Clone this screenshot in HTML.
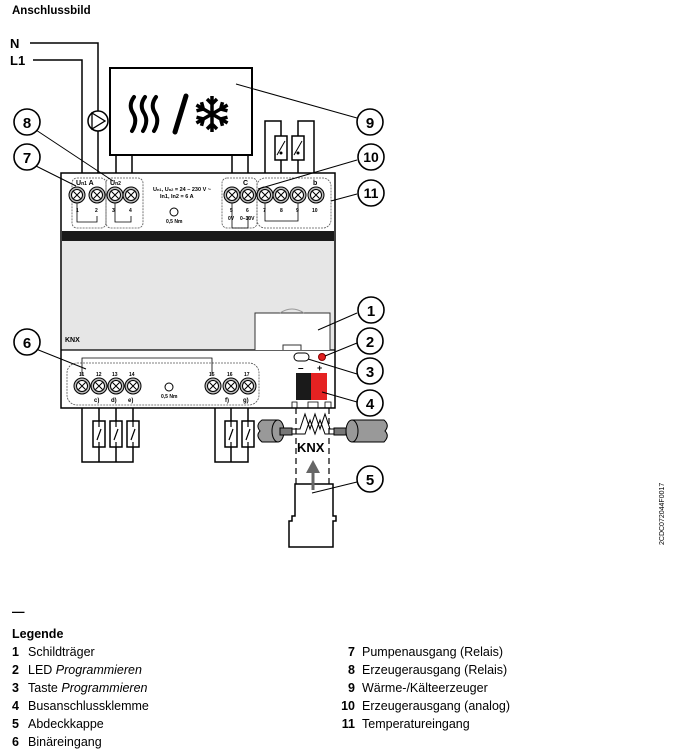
<!DOCTYPE html>
<html><head><meta charset="utf-8"><style>
body{margin:0;background:#fff;width:673px;height:756px;overflow:hidden;font-family:"Liberation Sans",sans-serif}
svg{position:absolute;left:0;top:0}
</style></head><body>
<svg width="673" height="756" viewBox="0 0 673 756" font-family="Liberation Sans, sans-serif">
<defs>
<g id="t"><circle r="8" fill="#bbb" stroke="#000" stroke-width="1"/><circle r="5.5" fill="#fff" stroke="#000" stroke-width="1"/><path d="M-3.5,-3.5L3.5,3.5M3.5,-3.5L-3.5,3.5" stroke="#000" stroke-width="1"/></g>
<g id="sw"><rect x="-6" y="0" width="12" height="26" fill="#fff" stroke="#000" stroke-width="1.5"/><path d="M-2,19L2,8M0,0V6M0,21V26" stroke="#000" stroke-width="1.2"/></g>
<g id="arm"><path d="M0,0V-18M-5,-15L0,-10L5,-15" fill="none" stroke="#000" stroke-width="3.5"/></g>
</defs>
<text x="12" y="14" font-size="11.5" font-weight="bold">Anschlussbild</text>
<text x="10" y="48" font-size="13" font-weight="bold">N</text>
<text x="10" y="65" font-size="13" font-weight="bold">L1</text>
<g fill="none" stroke="#000" stroke-width="1.5">
<path d="M30,43H98V173M33,60H82V173"/>
<rect x="110" y="68" width="142" height="87" stroke-width="2"/>
<path d="M116,155V173M132,155V173M232,155V173M248,155V173"/>
<path d="M265,173V121H281V136M281,160V173M298,173V160M298,136V121H314V173"/>
<rect x="275" y="136" width="12" height="24" fill="#fff"/><rect x="292" y="136" width="12" height="24" fill="#fff"/>
<path d="M277,155L285,141M294,155L302,141" stroke-width="1"/>
</g>
<circle cx="281" cy="153" r="1.5"/><circle cx="298" cy="153" r="1.5"/>
<circle cx="98" cy="121" r="10" fill="#fff" stroke="#000" stroke-width="1.5"/>
<path d="M92,113L105,121L92,129Z" fill="none" stroke="#000" stroke-width="1.3"/>
<g fill="none" stroke="#000" stroke-width="4" stroke-linecap="round">
<path d="M134,97Q128,105 133,113Q138,121 132,131"/>
<path d="M145,97Q139,105 144,113Q149,121 143,131"/>
<path d="M156,97Q150,105 155,113Q160,121 154,131"/>
<path d="M186,96L175,132" stroke-width="5"/>
</g>
<g transform="translate(212,114)"><use href="#arm"/><use href="#arm" transform="rotate(60)"/><use href="#arm" transform="rotate(120)"/><use href="#arm" transform="rotate(180)"/><use href="#arm" transform="rotate(240)"/><use href="#arm" transform="rotate(300)"/></g>
<!-- device -->
<rect x="61" y="173" width="274" height="235" fill="#fff" stroke="#000" stroke-width="1.5"/>
<rect x="62" y="231" width="272" height="10" fill="#1a1a1a"/>
<rect x="62" y="241" width="272" height="109" fill="#e6e6e6"/>
<line x1="61" y1="350" x2="335" y2="350" stroke="#000" stroke-width="1.2"/>
<path d="M255,350V313H330V350M283,350V345H301V350" fill="#fff" stroke="#333" stroke-width="1"/>
<path d="M280,313Q292,305 304,313" fill="none" stroke="#999"/>
<text x="65" y="342" font-size="7" font-weight="bold">KNX</text>
<g fill="none" stroke="#555" stroke-width="0.8" stroke-dasharray="2,1">
<rect x="72" y="178" width="34" height="50" rx="5"/><rect x="106" y="178" width="37" height="50" rx="5"/>
<rect x="222" y="178" width="35" height="50" rx="5"/><rect x="257" y="178" width="74" height="50" rx="8"/>
<rect x="67" y="363" width="192" height="42" rx="10"/>
</g>
<g fill="none" stroke="#000" stroke-width="0.8">
<path d="M77,203V222H97V216M115,203V222H131V216M232,203V228H248V216M265,203V221H298V203"/>
<path d="M82,375V358H212V375"/>
</g>
<use href="#t" x="77" y="195"/><use href="#t" x="97" y="195"/><use href="#t" x="115" y="195"/><use href="#t" x="131" y="195"/>
<use href="#t" x="232" y="195"/><use href="#t" x="248" y="195"/><use href="#t" x="265" y="195"/><use href="#t" x="281" y="195"/><use href="#t" x="298" y="195"/><use href="#t" x="316" y="195"/>
<use href="#t" x="82" y="386"/><use href="#t" x="99" y="386"/><use href="#t" x="116" y="386"/><use href="#t" x="133" y="386"/>
<use href="#t" x="213" y="386"/><use href="#t" x="231" y="386"/><use href="#t" x="248" y="386"/>
<g font-size="7" font-weight="bold">
<text x="76" y="185">U<tspan font-size="5">n1</tspan> A</text><text x="110" y="185">U<tspan font-size="5">n2</tspan></text>
<text x="243" y="185">C</text><text x="313" y="185">b</text>
<text x="153" y="191" font-size="5.5">U<tspan font-size="4">n1</tspan>, U<tspan font-size="4">n2</tspan> = 24 – 230 V ~</text>
<text x="160" y="198" font-size="5.5">In1, In2 = 6 A</text>
<text x="166" y="223" font-size="5">0,5 Nm</text><text x="161" y="398" font-size="5">0,5 Nm</text>
<text x="76" y="212" font-size="5">1</text><text x="95" y="212" font-size="5">2</text><text x="112" y="212" font-size="5">3</text><text x="129" y="212" font-size="5">4</text>
<text x="230" y="212" font-size="5">5</text><text x="246" y="212" font-size="5">6</text><text x="263" y="212" font-size="5">7</text><text x="280" y="212" font-size="5">8</text><text x="296" y="212" font-size="5">9</text><text x="312" y="212" font-size="5">10</text>
<text x="228" y="220" font-size="5">0V</text><text x="240" y="220" font-size="5">0–10V</text>
<text x="79" y="376" font-size="5">11</text><text x="96" y="376" font-size="5">12</text><text x="112" y="376" font-size="5">13</text><text x="129" y="376" font-size="5">14</text>
<text x="209" y="376" font-size="5">15</text><text x="227" y="376" font-size="5">16</text><text x="244" y="376" font-size="5">17</text>
<text x="94" y="402" font-size="6">c)</text><text x="111" y="402" font-size="6">d)</text><text x="128" y="402" font-size="6">e)</text><text x="225" y="402" font-size="6">f)</text><text x="243" y="402" font-size="6">g)</text>
</g>
<circle cx="174" cy="212" r="4" fill="none" stroke="#000"/><circle cx="169" cy="387" r="4" fill="none" stroke="#000"/>
<!-- button, LED -->
<rect x="294" y="353" width="15" height="8" rx="4" fill="#fff" stroke="#000"/>
<circle cx="322" cy="357" r="3.5" fill="#e02020" stroke="#800"/>
<text x="298" y="371" font-size="10" font-weight="bold">–</text><text x="317" y="371" font-size="9" font-weight="bold">+</text>
<rect x="296" y="373" width="15" height="27" fill="#1a1a1a"/><rect x="311" y="373" width="16" height="27" fill="#e52222"/>
<path d="M292,408V402H297V408M308,408V402H318V408M325,408V402H331V408" fill="none" stroke="#000" stroke-width="0.8"/>
<!-- bottom switches -->
<g fill="none" stroke="#000" stroke-width="1.5">
<path d="M82,408V462H133V408M99,408V462M116,408V462M215,408V462H248V408M231,408V462"/>
</g>
<use href="#sw" x="99" y="421"/><use href="#sw" x="116" y="421"/><use href="#sw" x="133" y="421"/>
<use href="#sw" x="231" y="421"/><use href="#sw" x="248" y="421"/>
<!-- KNX cable -->
<g stroke="#000">
<path d="M262,420H278V442H262Q255,436 260,431Q255,425 262,420Z" fill="#999"/>
<ellipse cx="278" cy="431" rx="6" ry="11" fill="#999"/>
<rect x="280" y="428" width="12" height="7" fill="#777"/>
<path d="M384,420H352V442H384Q390,436 385,431Q390,425 384,420Z" fill="#999"/>
<ellipse cx="352" cy="431" rx="6" ry="11" fill="#999"/>
<rect x="334" y="428" width="12" height="7" fill="#777"/>
<path d="M292,429H300L305,414L310,429L315,414L320,429L325,414L330,429H334M292,434H305L310,420L315,434L320,420L325,434H334" fill="none" stroke-width="1"/>
</g>
<g stroke="#000" stroke-width="1.2" stroke-dasharray="6,4"><line x1="296" y1="408" x2="296" y2="484"/><line x1="329" y1="408" x2="329" y2="484"/></g>
<text x="297" y="452" font-size="13" font-weight="bold">KNX</text>
<path d="M295,484H333V516H336V521H333V547H289V521H292V516H295Z" fill="#fff" stroke="#000" stroke-width="1.5"/>
<path d="M313,490V470" stroke="#666" stroke-width="3"/>
<path d="M306,473L313,460L320,473Z" fill="#666"/>
<!-- callouts -->
<g fill="none" stroke="#000" stroke-width="1">
<path d="M357,118L236,84M357,160L258,189M357,194L331,201M36,130L113,181M36,166L76,186M357,313L318,330M357,343L325,356M357,374L308,359M357,402L322,392M357,482L312,493M36,349L86,369"/>
</g>
<g font-size="15" font-weight="bold" text-anchor="middle">
<g fill="#fff" stroke="#000" stroke-width="1.6">
<circle cx="370" cy="122" r="13"/><circle cx="371" cy="157" r="13"/><circle cx="371" cy="193" r="13"/>
<circle cx="27" cy="122" r="13"/><circle cx="27" cy="157" r="13"/><circle cx="27" cy="342" r="13"/>
<circle cx="371" cy="310" r="13"/><circle cx="370" cy="341" r="13"/><circle cx="370" cy="371" r="13"/><circle cx="370" cy="403" r="13"/><circle cx="370" cy="479" r="13"/>
</g>
<text x="370" y="128">9</text><text x="371" y="162" font-size="14">10</text><text x="371" y="198" font-size="14">11</text>
<text x="27" y="128">8</text><text x="27" y="163">7</text><text x="27" y="348">6</text>
<text x="371" y="316">1</text><text x="370" y="347">2</text><text x="370" y="377">3</text><text x="370" y="409">4</text><text x="370" y="485">5</text>
</g>
<text transform="translate(664,545) rotate(-90)" font-size="7">2CDC072044F0017</text>
<!-- legend -->
<g font-size="12.5">
<text x="12" y="616" font-weight="bold">—</text>
<text x="12" y="638" font-weight="bold">Legende</text>
<g font-weight="bold"><text x="12" y="656">1</text><text x="12" y="674">2</text><text x="12" y="692">3</text><text x="12" y="710">4</text><text x="12" y="728">5</text><text x="12" y="746">6</text></g>
<text x="28" y="656">Schildträger</text>
<text x="28" y="674">LED <tspan font-style="italic">Programmieren</tspan></text>
<text x="28" y="692">Taste <tspan font-style="italic">Programmieren</tspan></text>
<text x="28" y="710">Busanschlussklemme</text>
<text x="28" y="728">Abdeckkappe</text>
<text x="28" y="746">Binäreingang</text>
<g font-weight="bold" text-anchor="end"><text x="355" y="656">7</text><text x="355" y="674">8</text><text x="355" y="692">9</text><text x="355" y="710">10</text><text x="355" y="728">11</text></g>
<text x="362" y="656">Pumpenausgang (Relais)</text>
<text x="362" y="674">Erzeugerausgang (Relais)</text>
<text x="362" y="692">Wärme-/Kälteerzeuger</text>
<text x="362" y="710">Erzeugerausgang (analog)</text>
<text x="362" y="728">Temperatureingang</text>
</g>
</svg>
</body></html>
